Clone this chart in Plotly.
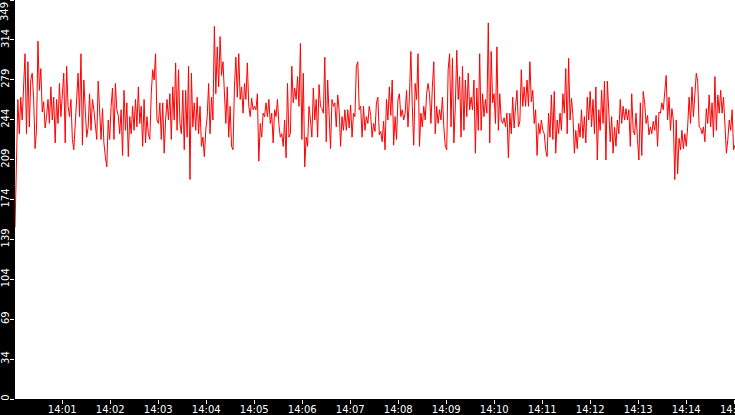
import pandas as pd
import plotly.graph_objects as go

# readings, traced left to right in seven chunks of roughly two minutes each
first_reading = [150]
chunk1 = [218, 262, 232, 264, 244, 273, 302, 232, 295, 238,
          279, 285, 262, 219, 235, 313, 270, 289, 251, 260,
          237, 247, 262, 241, 273, 244, 264, 224, 262, 241,
          276, 247, 264, 285, 224, 291, 256, 247, 262, 227,
          218, 241, 262, 285, 247, 302, 222, 279, 253, 229,
          238, 267, 235, 262, 253, 238, 227, 278, 256, 227,
          254, 224, 212, 203, 244, 227, 256, 272, 227, 276,
          253, 248]
chunk2 = [232, 253, 213, 270, 235, 259, 212, 247, 232, 256,
          235, 262, 238, 273, 241, 256, 221, 262, 224, 247,
          232, 227, 267, 288, 279, 302, 244, 241, 259, 227,
          259, 215, 244, 262, 244, 267, 227, 273, 244, 294,
          235, 288, 241, 232, 270, 218, 270, 229, 291, 192,
          285, 238, 259, 235, 264, 232, 256, 221, 229, 212,
          235, 247, 276, 232, 264, 244, 326, 267, 308, 273,
          317, 283]
chunk3 = [295, 273, 241, 273, 229, 256, 221, 218, 273, 299,
          264, 302, 262, 273, 250, 276, 262, 294, 256, 247,
          263, 253, 256, 253, 267, 208, 241, 229, 250, 247,
          259, 247, 262, 241, 250, 224, 253, 247, 262, 240,
          229, 232, 221, 244, 211, 276, 229, 232, 291, 259,
          272, 262, 282, 256, 311, 227, 285, 203, 229, 221,
          256, 244, 229, 272, 244, 262, 229, 275, 256, 254,
          250, 299]
chunk4 = [225, 279, 241, 219, 262, 256, 259, 238, 266, 253,
          221, 247, 235, 253, 235, 253, 237, 257, 229, 250,
          247, 291, 295, 253, 256, 229, 256, 235, 247, 241,
          256, 248, 229, 241, 234, 259, 264, 231, 234, 225,
          243, 218, 262, 244, 273, 248, 279, 222, 247, 227,
          262, 267, 247, 253, 244, 250, 270, 238, 264, 304,
          256, 222, 276, 262, 302, 221, 250, 238, 256, 244,
          267, 276]
chunk5 = [267, 241, 273, 295, 232, 256, 241, 253, 244, 264,
          238, 221, 218, 288, 302, 238, 298, 224, 256, 305,
          262, 282, 229, 291, 235, 279, 247, 285, 253, 264,
          253, 279, 215, 272, 235, 302, 235, 267, 247, 262,
          250, 329, 224, 304, 259, 267, 241, 308, 235, 267,
          244, 241, 246, 238, 250, 211, 250, 232, 264, 237,
          256, 270, 238, 243, 288, 256, 273, 256, 279, 256,
          295, 260]
chunk6 = [270, 241, 253, 213, 241, 232, 244, 235, 232, 218,
          212, 250, 229, 266, 227, 269, 215, 244, 232, 250,
          235, 267, 250, 289, 232, 298, 244, 263, 248, 215,
          235, 219, 241, 229, 253, 228, 247, 224, 264, 244,
          269, 238, 262, 232, 273, 209, 253, 235, 270, 241,
          278, 209, 278, 244, 225, 247, 215, 238, 221, 244,
          232, 262, 241, 256, 244, 254, 244, 253, 221, 267,
          235, 231]
chunk7 = [250, 227, 209, 259, 213, 269, 259, 241, 248, 231,
          238, 232, 243, 235, 248, 221, 251, 250, 259, 253,
          269, 283, 244, 264, 235, 254, 244, 192, 244, 197,
          228, 218, 235, 219, 232, 221, 238, 264, 241, 273,
          247, 264, 285, 278, 238, 237, 232, 238, 225, 254,
          241, 266, 238, 259, 229, 282, 235, 266, 250, 270,
          250, 264, 238, 215, 227, 244, 235, 253, 218, 222]

# y axis: eleven even steps up to the max, labels truncated
y_max = 349
y_tickvals = [0, 34.9, 69.8, 104.7, 139.6, 174.5, 209.4, 244.3, 279.2, 314.1, 349]
y_ticktext = ["0", "34", "69", "104", "139", "174", "209", "244", "279", "314", ""]

t_start = "2024-01-01 14:00:01"
t_end = "2024-01-01 14:15:01"
last_tick = "2024-01-01 14:15:00"


def main():
    values = first_reading + chunk1 + chunk2 + chunk3 + chunk4 + chunk5 + chunk6 + chunk7
    times = pd.date_range(t_start, t_end, periods=len(values))

    fig = go.Figure()
    fig.add_trace(go.Scatter(x=times, y=values, mode="lines",
                             line=dict(color="#ff0000", width=1),
                             hoverinfo="skip"))

    axis_font = dict(family="DejaVu Sans", size=10, color="white")
    fig.update_layout(
        width=735, height=415,
        margin=dict(l=15, r=0, t=0, b=16, pad=0),
        paper_bgcolor="black", plot_bgcolor="white",
        showlegend=False,
    )
    fig.update_xaxes(
        range=[t_start, t_end], tickformat="%H:%M", dtick=60000,
        ticks="outside", ticklen=4, tickcolor="white", tickfont=axis_font,
        ticklabelstandoff=-3,
        showgrid=False, zeroline=False, showline=False, automargin=False,
    )
    fig.update_yaxes(
        range=[0, y_max], tickvals=y_tickvals, ticktext=y_ticktext, tickangle=-90,
        ticks="outside", ticklen=4, tickcolor="white", tickfont=axis_font,
        ticklabelstandoff=-3,
        showgrid=False, zeroline=False, showline=False, automargin=False,
    )
    # the top label sits inside the page instead of being cut off
    fig.add_annotation(text=str(y_max), xref="paper", yref="y", x=0, y=y_max,
                       xanchor="right", yanchor="top", textangle=-90,
                       showarrow=False, xshift=-3, font=axis_font)
    # last time label runs off the right edge, plotly drops it otherwise
    fig.add_annotation(text="14:15", xref="x", yref="paper", x=last_tick, y=0,
                       xanchor="center", yanchor="top", yshift=-3,
                       showarrow=False, font=axis_font)

    # page margin off so the chart fills the window
    fig.write_html("out.html", config={"displayModeBar": False},
                   post_script="document.body.style.margin='0';")


if __name__ == '__main__':
    main()
